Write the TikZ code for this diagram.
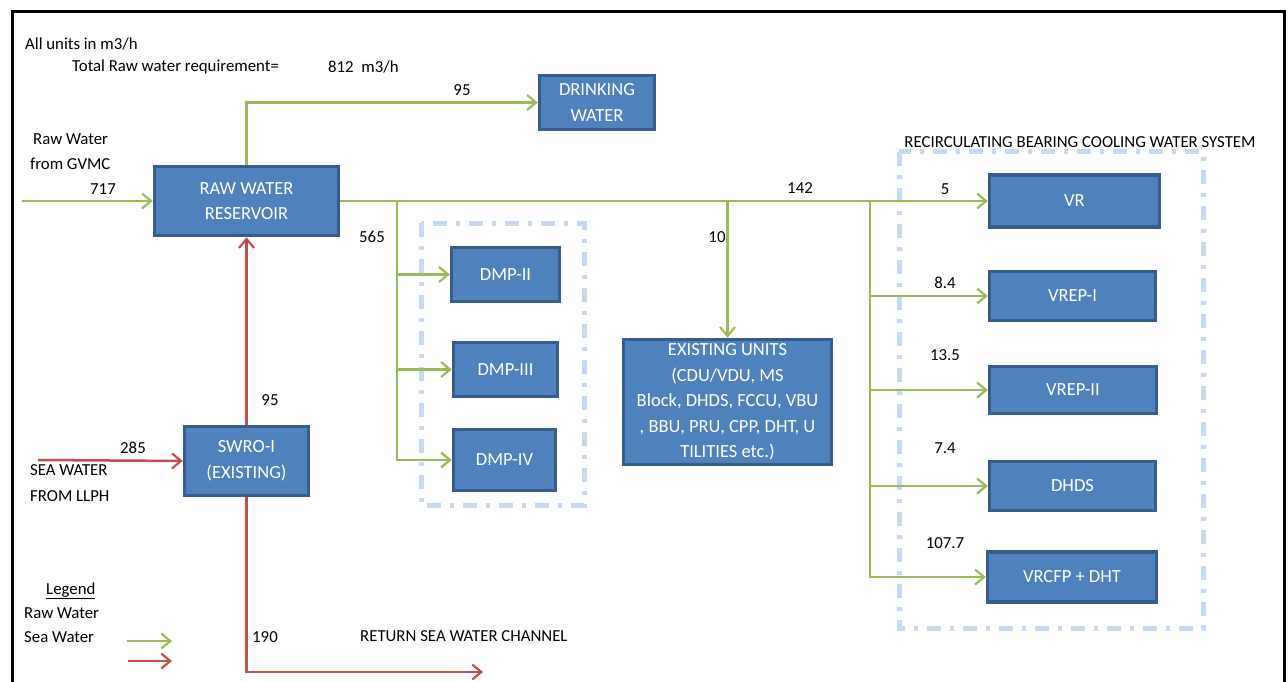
\documentclass[tikz,border=0pt]{standalone}
\usepackage{fontspec}
\setmainfont{Carlito}
\usetikzlibrary{arrows.meta}
\definecolor{boxfill}{HTML}{4F81BD}
\definecolor{boxline}{HTML}{385D8A}
\definecolor{gline}{HTML}{9BBB59}
\definecolor{rline}{HTML}{C0504D}
\definecolor{dline}{HTML}{C6D9F1}
\tikzset{
  box/.style={draw=boxline, line width=3.5pt, fill=boxfill, text=white, align=center, inner sep=0pt,
    font=\fontsize{18.5}{25.5}\selectfont},
  lbl/.style={inner sep=0pt, font=\fontsize{16.8}{20}\selectfont, text=black},
  tip/.style={-{Straight Barb[length=9pt,width=15pt,line width=2.2pt]}},
  gr/.style={draw=gline, line width=2.5pt},
  rd/.style={draw=rline, line width=2.5pt},
  dbox/.style={draw=dline, line width=5pt, dash pattern=on 14pt off 9pt on 4pt off 9pt},
}
\begin{document}
\begin{tikzpicture}[x=1pt,y=-1pt]
\useasboundingbox (0,0) rectangle (1288,682);
\fill[white] (0,0) rectangle (1288,682);
% frame
\draw[line width=3pt] (12,690) -- (12,12) -- (1284,12) -- (1284,690);

% dashed groups
\draw[dbox] (421,223) rectangle (584,505);
\draw[dbox] (899,152) rectangle (1203,628);

% boxes
\node[box, minimum width=115pt, minimum height=54pt] (drink) at (597,102.5) {DRINKING\\WATER};
\node[box, minimum width=184pt, minimum height=69pt] (rwr) at (246.5,201) {RAW WATER\\RESERVOIR};
\node[box, minimum width=108pt, minimum height=54pt] (dmp2) at (505.5,274.5) {DMP-II};
\node[box, minimum width=104pt, minimum height=54pt] (dmp3) at (505.5,369.5) {DMP-III};
\node[box, minimum width=102pt, minimum height=61pt] (dmp4) at (504.5,460) {DMP-IV};
\node[box, minimum width=208pt, minimum height=125pt] (exist) at (727.5,402) {EXISTING UNITS\\(CDU/VDU, MS\\Block, DHDS, FCCU, VBU\\, BBU, PRU, CPP, DHT, U\\TILITIES etc.)};
\node[box, minimum width=170pt, minimum height=52pt] (vr) at (1074.5,201) {VR};
\node[box, minimum width=166pt, minimum height=49pt] (vrep1) at (1072.5,296) {VREP-I};
\node[box, minimum width=167pt, minimum height=47pt] (vrep2) at (1073,390) {VREP-II};
\node[box, minimum width=166pt, minimum height=49pt] (dhds) at (1072.5,486) {DHDS};
\node[box, minimum width=169pt, minimum height=50pt] (vrcfp) at (1072,577) {VRCFP + DHT};
\node[box, minimum width=124pt, minimum height=69pt] (swro) at (246.5,461) {SWRO-I\\(EXISTING)};

% coordinates
\coordinate (gvmc) at (22,201);
\coordinate (b1) at (397,201);
\coordinate (b2) at (exist.north |- rwr.east);
\coordinate (b3) at (870,201);
\coordinate (llph) at (38,460);
\coordinate (ret) at (483,672);
\coordinate (lg1s) at (127,641);
\coordinate (lg1e) at (172,641);
\coordinate (lg2s) at (128,661);
\coordinate (lg2e) at (172,661);

% green connectors
\draw[gr,tip] (rwr.north) |- (drink.west);
\draw[gr,tip] (gvmc) -- (rwr.west);
\draw[gr,tip] (rwr.east |- vr.west) -- (vr.west);
\draw[gr,tip] (b1) |- (dmp2.west);
\draw[gr,tip] (b1) |- (dmp3.west);
\draw[gr,tip] (b1) |- (dmp4.west);
\draw[gr,tip] (b2) -- (exist.north);
\draw[gr,tip] (b3) |- (vrep1.west);
\draw[gr,tip] (b3) |- (vrep2.west);
\draw[gr,tip] (b3) |- (dhds.west);
\draw[gr,tip] (b3) |- (vrcfp.west);

% red connectors
\draw[rd,tip] (swro.north) -- (rwr.south);
\draw[rd,tip] (llph) -- (swro.west);
\draw[rd,tip] (swro.south) |- (ret);

% legend arrows
\draw[gr,tip] (lg1s) -- (lg1e);
\draw[rd,tip] (lg2s) -- (lg2e);

% labels
\node[lbl, anchor=west] (t1) at (25,44) {All units in m3/h};
\node[lbl, anchor=west] (t2) at (72,67) {Total Raw water requirement=};
\node[lbl, anchor=west] (t3) at (328,67) {812\ \ m3/h};
\node[lbl] (l95a) at (462,90) {95};
\node[lbl, anchor=west] (t4) at (33,139) {Raw Water};
\node[lbl, anchor=west] (t5) at (30,164) {from GVMC};
\node[lbl] (l717) at (103,189) {717};
\node[lbl] (l565) at (372,237) {565};
\node[lbl] (l10) at (717,237) {10};
\node[lbl] (l142) at (800,188) {142};
\node[lbl] (l5) at (945,189) {5};
\node[lbl] (l84) at (945,283) {8.4};
\node[lbl] (l135) at (945,355) {13.5};
\node[lbl] (l74) at (945,448) {7.4};
\node[lbl] (l1077) at (945,543) {107.7};
\node[lbl] (rbc) at (1080,142) {RECIRCULATING BEARING COOLING WATER SYSTEM};
\node[lbl] (l95b) at (270,400) {95};
\node[lbl] (l285) at (133,448) {285};
\node[lbl, anchor=west] (t6) at (30,470) {SEA WATER};
\node[lbl, anchor=west] (t7) at (30,496) {FROM LLPH};
\node[lbl, anchor=west] (t8) at (46,591) {\underline{Legend}};
\node[lbl, anchor=west] (t9) at (24,613) {Raw Water};
\node[lbl, anchor=west] (t10) at (24,637) {Sea Water};
\node[lbl] (l190) at (265,637) {190};
\node[lbl, anchor=west] (t11) at (360,636) {RETURN SEA WATER CHANNEL};
\end{tikzpicture}
\end{document}
